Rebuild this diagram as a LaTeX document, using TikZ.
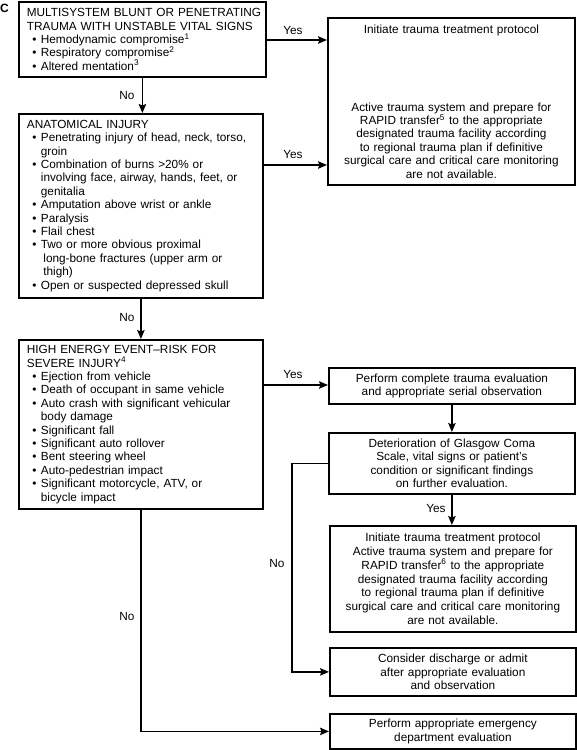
\documentclass[tikz,border=0pt]{standalone}
\usepackage{fontspec}
\setmainfont{Liberation Sans}
\usetikzlibrary{arrows.meta,calc}
\newcommand\fs{\fontsize{11.8pt}{13.4pt}\selectfont}
\newcommand\fsw{\fontsize{11.8pt}{13.8pt}\selectfont}
\newcommand\hd[1]{\mbox{#1}}
\newcommand\bl[1]{\mbox{\hspace*{5.5pt}\makebox[8.5pt][l]{•}#1}}
\newcommand\cl[1]{\mbox{\hspace*{14pt}#1}}
\begin{document}
\begin{tikzpicture}[x=1pt,y=-1pt,
  lbox/.style={draw, line width=1.8pt, anchor=north west, inner xsep=8pt, inner ysep=0pt, align=left, font=\fs},
  rbox/.style={draw, line width=1.8pt, anchor=north west, inner xsep=4pt, inner ysep=0pt, align=center, font=\fs},
  conn/.style={line width=1.4pt, -{Stealth[length=9pt,width=7.5pt,inset=1.5pt]}},
  lab/.style={font=\fs, inner sep=1pt}]
\useasboundingbox (0,0) rectangle (576,750);
\node[font=\bfseries\fontsize{12pt}{12pt}\selectfont, inner sep=0pt] (lbl) at (4.5,8) {C};
% left column
\node[lbox, text width=231pt, minimum width=247pt, minimum height=75pt] (b1) at (18,1)
  {\hd{MULTISYSTEM BLUNT OR PENETRATING}\\
   \hd{TRAUMA WITH UNSTABLE VITAL SIGNS}\\
   \bl{Hemodynamic compromise\textsuperscript{1}}\\
   \bl{Respiratory compromise\textsuperscript{2}}\\
   \bl{Altered mentation\textsuperscript{3}}};
\node[lbox, text width=228pt, minimum width=244pt, minimum height=184pt] (b2) at (18,113)
  {\hd{ANATOMICAL INJURY}\\
   \bl{Penetrating injury of head, neck, torso,}\\
   \cl{groin}\\
   \bl{Combination of burns >20\% or}\\
   \cl{involving face, airway, hands, feet, or}\\
   \cl{genitalia}\\
   \bl{Amputation above wrist or ankle}\\
   \bl{Paralysis}\\
   \bl{Flail chest}\\
   \bl{Two or more obvious proximal}\\
   \cl{\hspace*{2.5pt}long-bone fractures (upper arm or}\\
   \cl{\hspace*{2.5pt}thigh)}\\
   \bl{Open or suspected depressed skull}};
\node[lbox, text width=228pt, minimum width=244pt, minimum height=169pt] (b3) at (18,339)
  {\hd{HIGH ENERGY EVENT--RISK FOR}\\
   \hd{SEVERE INJURY\textsuperscript{4}}\\
   \bl{Ejection from vehicle}\\
   \bl{Death of occupant in same vehicle}\\
   \bl{Auto crash with significant vehicular}\\
   \cl{body damage}\\
   \bl{Significant fall}\\
   \bl{Significant auto rollover}\\
   \bl{Bent steering wheel}\\
   \bl{Auto-pedestrian impact}\\
   \bl{Significant motorcycle, ATV, or}\\
   \cl{bicycle impact}};
% right column
\node[rbox, text width=239pt, minimum width=247pt, minimum height=167pt] (r1) at (327,17)
  {Initiate trauma treatment protocol\\[64.6pt]
   Active trauma system and prepare for\\
   RAPID transfer\textsuperscript{5} to the appropriate\\
   designated trauma facility according\\
   to regional trauma plan if definitive\\
   surgical care and critical care monitoring\\
   are not available.};
\node[rbox, text width=238pt, minimum width=246pt, minimum height=36pt] (pe) at (328,367)
  {Perform complete trauma evaluation\\ and appropriate serial observation};
\node[rbox, text width=238pt, minimum width=246pt, minimum height=61pt] (de) at (328,432)
  {Deterioration of Glasgow Coma\\ Scale, vital signs or patient's\\
   condition or significant findings\\ on further evaluation.};
\node[rbox, font=\fsw, text width=238pt, minimum width=246pt, minimum height=106pt] (it) at (329,525)
  {Initiate trauma treatment protocol\\
   Active trauma system and prepare for\\
   RAPID transfer\textsuperscript{6} to the appropriate\\
   designated trauma facility according\\
   to regional trauma plan if definitive\\
   surgical care and critical care monitoring\\
   are not available.};
\node[rbox, text width=238pt, minimum width=246pt, minimum height=48pt] (co) at (329,647)
  {Consider discharge or admit\\ after appropriate evaluation\\ and observation};
\node[rbox, text width=238pt, minimum width=246pt, minimum height=35pt] (ed) at (329,713)
  {Perform appropriate emergency\\ department evaluation};
% helper coordinates
\coordinate (y1) at (0,40);
\coordinate (y2) at (0,165);
\coordinate (y3) at (0,385);
\coordinate (xn) at (292,0);
% connectors
\draw[conn] (b1.south) -- (b1.south |- b2.north);
\draw[conn] (b2.south) -- (b2.south |- b3.north);
\draw[conn] (b1.east |- y1) -- (r1.west |- y1);
\draw[conn] (b2.east |- y2) -- (r1.west |- y2);
\draw[conn] (b3.east |- y3) -- (pe.west |- y3);
\draw[conn] (pe.south) -- (pe.south |- de.north);
\draw[conn] (de.south) -- (de.south |- it.north);
\draw[conn] (de.west) -- (xn |- de.west) |- (co.west);
\draw[conn] (b3.south) |- (ed.west);
% labels
\node[lab] (l1) at (127,95) {No};
\node[lab] (l2) at (127,317) {No};
\node[lab] (l3) at (293,30) {Yes};
\node[lab] (l4) at (293,154) {Yes};
\node[lab] (l5) at (293,374) {Yes};
\node[lab] (l6) at (436,508) {Yes};
\node[lab] (l7) at (277,563) {No};
\node[lab] (l8) at (127,616) {No};
\end{tikzpicture}
\end{document}
